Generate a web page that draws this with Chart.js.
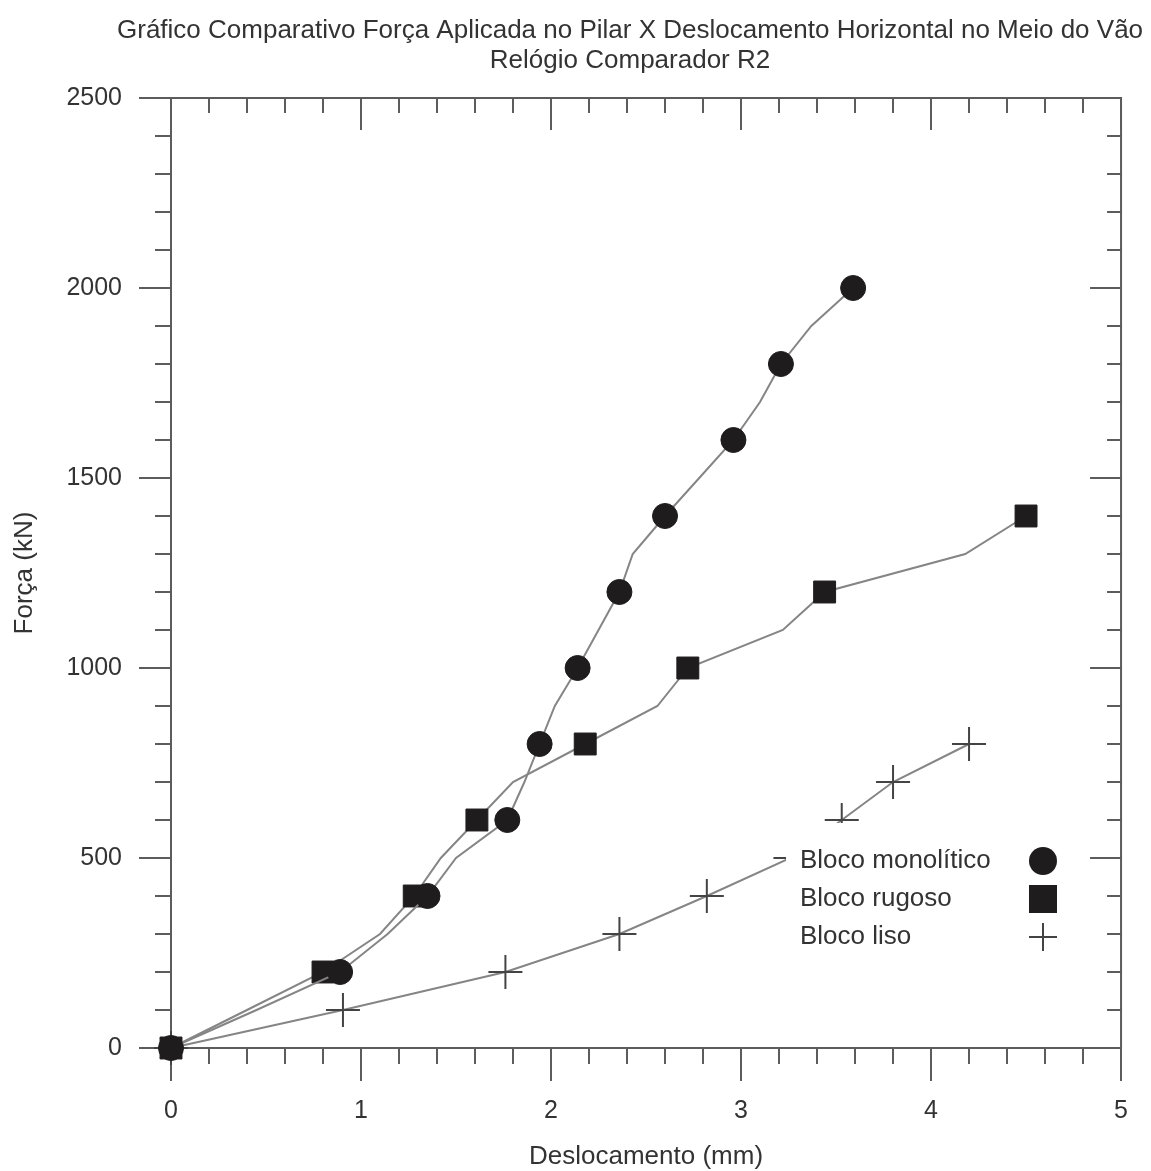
<!DOCTYPE html>
<html>
<head>
<meta charset="utf-8">
<script src="https://cdn.jsdelivr.net/npm/chart.js@4/dist/chart.umd.min.js"></script>
<style>
  html, body { margin: 0; padding: 0; background: #fff; overflow: hidden; }
  #wrap { position: relative; width: 1176px; height: 1171px; }
</style>
</head>
<body>
<div id="wrap"><canvas id="c"></canvas></div>
<script>
// ---- text ----
const titleLines = ['Gráfico Comparativo Força Aplicada no Pilar X Deslocamento Horizontal no Meio do Vão', 'Relógio Comparador R2'];
const xTitle = 'Deslocamento (mm)';
const yTitle = 'Força (kN)';
const seriesNames = ['Bloco monolítico', 'Bloco rugoso', 'Bloco liso'];

// ---- tick labels ----
const xTickLabels = [0, 1, 2, 3, 4, 5];
const yTickLabels = [0, 500, 1000, 1500, 2000, 2500];

// ---- measurements: load (kN) and horizontal displacement (mm) ----
const loadMono = [0, 100, 200, 300, 400, 500, 600, 700, 800, 900, 1000, 1100, 1200, 1300, 1400, 1500, 1600, 1700, 1800, 1900, 2000];
const dispMono = [0, 0.45, 0.89, 1.14, 1.35, 1.50, 1.77, 1.86, 1.94, 2.02, 2.14, 2.25, 2.36, 2.43, 2.60, 2.78, 2.96, 3.10, 3.21, 3.37, 3.59];

const loadRug = [0, 100, 200, 300, 400, 500, 600, 700, 800, 900, 1000, 1100, 1200, 1300, 1400];
const dispRug = [0, 0.40, 0.80, 1.10, 1.28, 1.42, 1.61, 1.80, 2.18, 2.56, 2.72, 3.22, 3.44, 4.18, 4.50];

const loadLiso = [0, 100, 200, 300, 400, 500, 600, 700, 800];
const dispLiso = [0, 0.905, 1.76, 2.36, 2.82, 3.26, 3.53, 3.80, 4.20];

const FONT = '"Liberation Sans", Arial, Helvetica, sans-serif';
const TEXT = '#333333';
const LINE = '#858585';
const INK = '#1f1c1d';

const pts = (xs, ys) => xs.map((v, i) => ({ x: v, y: ys[i] }));
const isMajorX = v => xTickLabels.some(t => Math.abs(t - v) < 1e-6);
const isMajorY = v => yTickLabels.some(t => Math.abs(t - v) < 1e-6);
// markers on every 200 kN step, the lines pass through every 100 kN reading
const every = step => ctx => (ctx.raw && ctx.raw.y % step === 0);

// two-line heading above the plot
const heading = {
  id: 'heading',
  afterDraw(chart) {
    const { ctx, chartArea: a } = chart;
    const cx = (a.left + a.right) / 2 - 16;
    ctx.save();
    ctx.fillStyle = TEXT;
    ctx.font = '26px ' + FONT;
    ctx.textAlign = 'center';
    ctx.textBaseline = 'middle';
    titleLines.forEach((t, i) => ctx.fillText(t, cx, 31 + i * 30));
    ctx.restore();
  }
};

// box with tick marks on all four sides (outer on bottom/left, inner on top/right)
const frameTicks = {
  id: 'frameTicks',
  beforeDatasetsDraw(chart) {
    const { ctx, chartArea: a, scales: { x, y } } = chart;
    ctx.save();
    ctx.strokeStyle = '#5c5c5c';
    ctx.lineWidth = 2;
    ctx.strokeRect(a.left, a.top, a.right - a.left, a.bottom - a.top);
    ctx.beginPath();
    x.ticks.forEach(t => {
      const px = Math.round(x.getPixelForValue(t.value));
      const major = isMajorX(t.value);
      ctx.moveTo(px, a.bottom); ctx.lineTo(px, a.bottom + (major ? 33 : 16));
      ctx.moveTo(px, a.top); ctx.lineTo(px, a.top + (major ? 32 : 15));
    });
    y.ticks.forEach(t => {
      const py = Math.round(y.getPixelForValue(t.value));
      const major = isMajorY(t.value);
      ctx.moveTo(a.left, py); ctx.lineTo(a.left - (major ? 32 : 16), py);
      ctx.moveTo(a.right, py); ctx.lineTo(a.right - (major ? 31 : 14), py);
    });
    ctx.stroke();
    ctx.restore();
  }
};

// key placed inside the plot, over a white patch
const insetLegend = {
  id: 'insetLegend',
  afterDatasetsDraw(chart) {
    const { ctx, chartArea: a } = chart;
    const left = a.left + 615, top = a.top + 725;
    ctx.save();
    ctx.fillStyle = '#ffffff';
    ctx.fillRect(left, top, 284, 138);
    ctx.font = '26px ' + FONT;
    ctx.textBaseline = 'middle';
    ctx.textAlign = 'left';
    chart.data.datasets.forEach((ds, i) => {
      const cy = top + 38 + i * 38;
      ctx.fillStyle = TEXT;
      ctx.fillText(ds.label, left + 14, cy);
      const mx = left + 257;
      ctx.fillStyle = INK;
      if (ds.pointStyle === 'circle') {
        ctx.beginPath(); ctx.arc(mx, cy, 14, 0, Math.PI * 2); ctx.fill();
      } else if (ds.pointStyle === 'rect') {
        ctx.fillRect(mx - 14, cy - 14, 28, 28);
      } else {
        ctx.strokeStyle = '#444';
        ctx.lineWidth = 2;
        ctx.beginPath();
        ctx.moveTo(mx - 14, cy); ctx.lineTo(mx + 14, cy);
        ctx.moveTo(mx, cy - 14); ctx.lineTo(mx, cy + 14);
        ctx.stroke();
      }
    });
    ctx.restore();
  }
};

new Chart(document.getElementById('c'), {
  type: 'scatter',
  data: {
    datasets: [
      {
        label: seriesNames[0], data: pts(dispMono, loadMono), showLine: true,
        borderColor: LINE, borderWidth: 2, pointStyle: 'circle',
        pointRadius: c => every(200)(c) ? 12.5 : 0,
        pointBackgroundColor: INK, pointBorderColor: INK, pointBorderWidth: 1, clip: false
      },
      {
        label: seriesNames[1], data: pts(dispRug, loadRug), showLine: true,
        borderColor: LINE, borderWidth: 2, pointStyle: 'rect',
        pointRadius: c => every(200)(c) ? 15.5 : 0,
        pointBackgroundColor: INK, pointBorderColor: INK, pointBorderWidth: 1, clip: false
      },
      {
        label: seriesNames[2], data: pts(dispLiso, loadLiso), showLine: true,
        borderColor: LINE, borderWidth: 2, pointStyle: 'cross',
        pointRadius: 17,
        pointBackgroundColor: '#444', pointBorderColor: '#444', pointBorderWidth: 2, clip: false
      }
    ]
  },
  options: {
    responsive: true,
    maintainAspectRatio: false,
    animation: false,
    events: [],
    layout: { padding: { left: 0, right: 5, top: 98, bottom: 0 } },
    plugins: {
      legend: { display: false },
      tooltip: { enabled: false },
      title: { display: false }
    },
    scales: {
      x: {
        type: 'linear', min: 0, max: 5,
        afterFit: s => { s.height = 123; },
        grid: { display: false, drawTicks: false },
        border: { display: false },
        ticks: {
          stepSize: 0.2, autoSkip: false, maxRotation: 0, padding: 48,
          color: TEXT, font: { family: FONT, size: 25 },
          callback: v => isMajorX(v) ? String(Math.round(v)) : ''
        },
        title: {
          display: true, text: xTitle, color: TEXT,
          font: { family: FONT, size: 26, lineHeight: 1.1 },
          padding: { top: 0, bottom: 0 }
        }
      },
      y: {
        type: 'linear', min: 0, max: 2500,
        afterFit: s => { s.width = 171; },
        grid: { display: false, drawTicks: false },
        border: { display: false },
        ticks: {
          stepSize: 100, autoSkip: false, padding: 49,
          color: TEXT, font: { family: FONT, size: 25 },
          callback: v => isMajorY(v) ? String(v) : ''
        },
        title: {
          display: true, text: yTitle, color: TEXT,
          font: { family: FONT, size: 26, lineHeight: 1.1 },
          padding: { top: 11, bottom: 0 }
        }
      }
    }
  },
  plugins: [frameTicks, insetLegend, heading]
});
</script>
</body>
</html>
